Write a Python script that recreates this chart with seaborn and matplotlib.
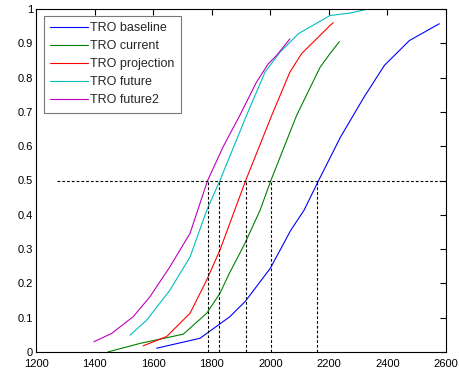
import matplotlib
matplotlib.use("Agg")
import matplotlib.pyplot as plt
import seaborn as sns
import pandas as pd

# ---- data ----
series_names = ["TRO baseline", "TRO current", "TRO projection", "TRO future", "TRO future2"]

baseline_x = [1612, 1760, 1862, 1915, 2000, 2070, 2115, 2165, 2240, 2320, 2390, 2475, 2577]
baseline_y = [0.011, 0.04, 0.103, 0.148, 0.244, 0.355, 0.413, 0.5, 0.627, 0.743, 0.836, 0.908, 0.957]

current_x = [1445, 1555, 1703, 1783, 1828, 1860, 1913, 1965, 2002, 2090, 2170, 2204, 2236]
current_y = [0.0, 0.025, 0.052, 0.113, 0.171, 0.229, 0.316, 0.413, 0.5, 0.69, 0.83, 0.87, 0.905]

projection_x = [1566, 1646, 1726, 1783, 1828, 1916, 2005, 2067, 2107, 2204, 2215]
projection_y = [0.018, 0.045, 0.113, 0.21, 0.297, 0.5, 0.69, 0.816, 0.87, 0.952, 0.96]

future_x = [1521, 1578, 1657, 1726, 1783, 1828, 1919, 1982, 2033, 2096, 2204, 2272, 2335]
future_y = [0.049, 0.093, 0.18, 0.277, 0.413, 0.5, 0.69, 0.816, 0.874, 0.928, 0.981, 0.988, 1.0]

future2_x = [1398, 1458, 1532, 1589, 1657, 1726, 1786, 1840, 1896, 1953, 1993, 2022, 2067]
future2_y = [0.030, 0.054, 0.103, 0.161, 0.248, 0.346, 0.5, 0.6, 0.69, 0.787, 0.84, 0.865, 0.913]

crossing_x = [1786, 1826, 1916, 2002, 2160]
threshold = 0.5
threshold_start = 1271

x_ticks = [1200, 1400, 1600, 1800, 2000, 2200, 2400, 2600]
y_ticks = [0, 0.1, 0.2, 0.3, 0.4, 0.5, 0.6, 0.7, 0.8, 0.9, 1]
y_tick_labels = ["0", "0.1", "0.2", "0.3", "0.4", "0.5", "0.6", "0.7", "0.8", "0.9", "1"]

colors = ["#0000ff", "#008000", "#ff0000", "#00bfbf", "#bf00bf"]

# ---- build table ----
xs = [baseline_x, current_x, projection_x, future_x, future2_x]
ys = [baseline_y, current_y, projection_y, future_y, future2_y]
frames = []
for name, x, y in zip(series_names, xs, ys):
    frames.append(pd.DataFrame({"x": x, "y": y, "series": name}))
df = pd.concat(frames, ignore_index=True)

sns.set_style("white")
plt.rcParams["font.family"] = ["Liberation Sans", "DejaVu Sans"]

fig = plt.figure(figsize=(4.59, 3.76), dpi=100)
ax = fig.add_axes([36 / 459, 24 / 376, 410 / 459, 343 / 376])

sns.lineplot(data=df, x="x", y="y", hue="series", hue_order=series_names,
             palette=colors, sort=False, estimator=None, linewidth=0.8, ax=ax)

dash = (0, (2.5, 1.8))
ax.hlines(threshold, threshold_start, 2600, colors="black", linestyles=dash, linewidth=0.8)
ax.vlines(crossing_x, 0, threshold, colors="black", linestyles=dash, linewidth=0.8)

ax.set_xlim(1200, 2600)
ax.set_ylim(0, 1)
ax.set_xticks(x_ticks)
ax.set_xticklabels([str(t) for t in x_ticks])
ax.set_yticks(y_ticks)
ax.set_yticklabels(y_tick_labels)
ax.set_xlabel("")
ax.set_ylabel("")
ax.tick_params(direction="in", length=4, width=0.8, top=True, right=True,
               labelsize=8, colors="black", pad=2)
ax.tick_params(axis="x", pad=5)
for s in ax.spines.values():
    s.set_visible(True)
    s.set_color("black")
    s.set_linewidth(0.8)

leg = ax.legend(loc="upper left", bbox_to_anchor=(8 / 410, 1 - 7 / 343), fontsize=9,
                frameon=True, fancybox=False, handlelength=3.0, handletextpad=0.2,
                borderpad=0.5, labelspacing=0.48, borderaxespad=0)
leg.get_frame().set_edgecolor("#555555")
leg.get_frame().set_linewidth(0.8)

fig.savefig("out.png", dpi=100)
